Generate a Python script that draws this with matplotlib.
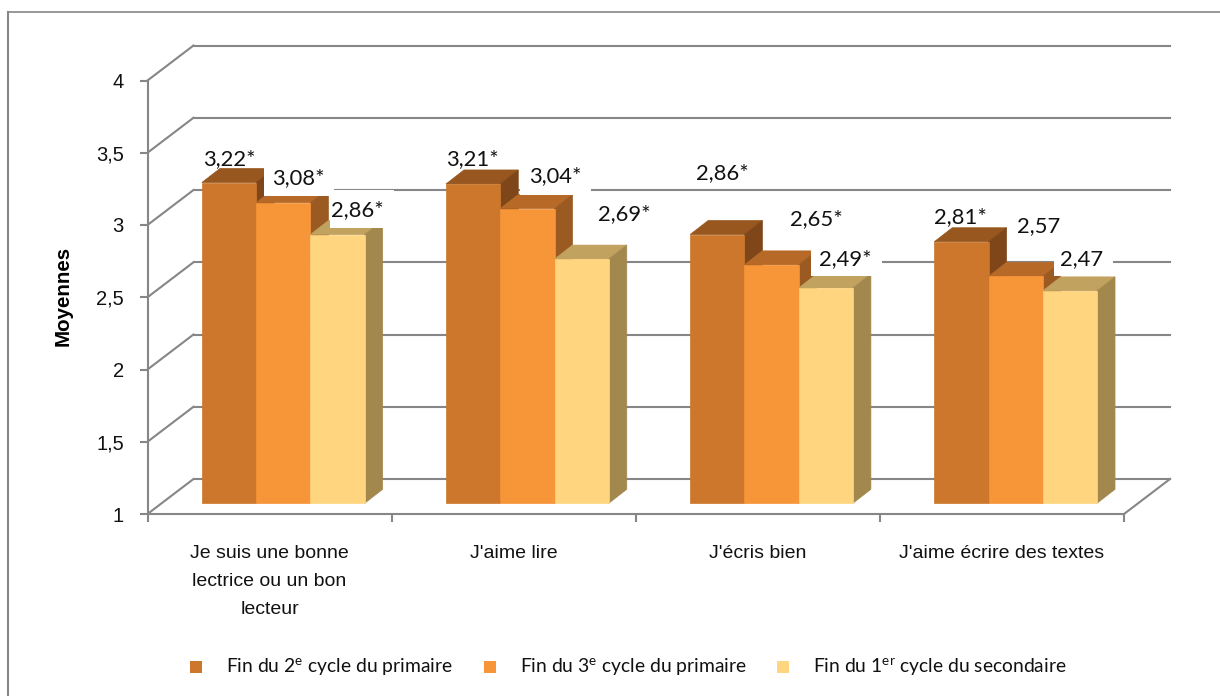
import matplotlib
matplotlib.use("Agg")
import matplotlib.pyplot as plt
from matplotlib.lines import Line2D
from matplotlib.patches import Polygon, Rectangle
from matplotlib.transforms import Affine2D

W, H = 1220, 696

categories = ["Je suis une bonne\nlectrice ou un bon\nlecteur", "J'aime lire", "J'écris bien",
              "J'aime écrire des textes"]
series_names = ["Fin du 2$^{\\mathrm{e}}$ cycle du primaire",
                "Fin du 3$^{\\mathrm{e}}$ cycle du primaire",
                "Fin du 1$^{\\mathrm{er}}$ cycle du secondaire"]
cycle2 = [3.22, 3.21, 2.86, 2.81]
cycle3 = [3.08, 3.04, 2.65, 2.57]
secondaire = [2.86, 2.69, 2.49, 2.47]
labels2 = ["3,22*", "3,21*", "2,86*", "2,81*"]
labels3 = ["3,08*", "3,04*", "2,65*", "2,57"]
labels_sec = ["2,86*", "2,69*", "2,49*", "2,47"]
y_ticks = [1, 1.5, 2, 2.5, 3, 3.5, 4]
y_tick_labels = ["1", "1,5", "2", "2,5", "3", "3,5", "4"]

front_colors = ["#CC772B", "#F79539", "#FFD580"]
top_colors = ["#97571F", "#B76A27", "#C1A25F"]
side_colors = ["#7F4719", "#9A5A22", "#A3884D"]
grid_color = "#868686"

# label shifts from the top centre of each bar, in pixels
nudges = [
    [(0, 23), (-1, 25), (5, 61), (-1, 25)],
    [(15, 24.5), (28, 32), (44.5, 46), (23, 50)],
    [(20, 24), (43, 45), (20, 29), (12, 32)],
]
# white backings behind some labels: left, top, right, bottom in pixels
label_backings = [(264, 165, 334, 196), (330, 190.4, 394, 228), (520, 165, 591, 195),
                  (811, 240, 882, 276), (1054, 245, 1113, 276)]

plt.rcParams["mathtext.fontset"] = "custom"
plt.rcParams["mathtext.rm"] = "Lato"

fig = plt.figure(figsize=(W / 100, H / 100), dpi=100, facecolor="white")
left, right, top, bottom = 147.5, 1124, 80.5, 514
ax = fig.add_axes([left / W, 1 - bottom / H, (right - left) / W, (bottom - top) / H])
ax.set_xlim(0, 4)
ax.set_ylim(1, 4)
ax.patch.set_visible(False)
ax.set_zorder(1)

line_w = 1.5
for s in ("top", "right"):
    ax.spines[s].set_visible(False)
for s in ("left", "bottom"):
    ax.spines[s].set_color(grid_color)
    ax.spines[s].set_linewidth(line_w)

ax.set_yticks(y_ticks, y_tick_labels, family="Liberation Sans", fontsize=14.5, color="#111111")
ax.set_xticks(range(5), [""] * 5)
ax.set_xticks([0.5, 1.5, 2.5, 3.5], categories, minor=True, family="Liberation Sans",
              fontsize=14, color="#111111", linespacing=1.86)
ax.tick_params(axis="both", which="major", color=grid_color, width=line_w, length=5.6)
ax.tick_params(axis="y", pad=11.5)
ax.tick_params(axis="x", which="minor", length=0, pad=22)

ax.set_ylabel("Moyennes", family="Liberation Sans", fontweight="bold", fontsize=14.8, va="center")
ax.yaxis.set_label_coords((63 - left) / (right - left), (bottom - 296) / (bottom - top))

# pixel lengths of the chart's receding depth
px_per_x = (right - left) / 4
px_per_y = (bottom - top) / 3
depth_x, depth_y = 46 / px_per_x, 35 / px_per_y

# back wall gridlines, side wall diagonals and floor
for v in y_ticks:
    ax.plot([depth_x, 4 + depth_x], [v + depth_y] * 2, color=grid_color, lw=line_w, zorder=1, clip_on=False)
    ax.plot([0, depth_x], [v, v + depth_y], color=grid_color, lw=line_w, zorder=1, clip_on=False)
ax.plot([4, 4 + depth_x], [1, 1 + depth_y], color=grid_color, lw=line_w, zorder=1, clip_on=False)

# bars sit part way into the depth of the floor
shift = Affine2D().translate(13.7, 10.7)
bar_trans = ax.transData + shift
bar_w = 1 / 4.5
bar_dx, bar_dy = 18 / px_per_x, 14 / px_per_y

all_series = [cycle2, cycle3, secondaire]
all_labels = [labels2, labels3, labels_sec]
for j, values in enumerate(all_series):
    z = 3 + j * 0.1
    for i, v in enumerate(values):
        x0 = i + 0.5 + (j - 1.5) * bar_w
        x1 = x0 + bar_w
        ax.add_patch(Polygon([(x0, v), (x1, v), (x1 + bar_dx, v + bar_dy), (x0 + bar_dx, v + bar_dy)],
                             facecolor=top_colors[j], edgecolor=top_colors[j], lw=0.5,
                             transform=bar_trans, zorder=z, clip_on=False))
        ax.add_patch(Polygon([(x1, 1), (x1 + bar_dx, 1 + bar_dy), (x1 + bar_dx, v + bar_dy), (x1, v)],
                             facecolor=side_colors[j], edgecolor=side_colors[j], lw=0.5,
                             transform=bar_trans, zorder=z, clip_on=False))
        ax.bar(x0, v - 1, bottom=1, width=bar_w, align="edge", color=front_colors[j],
               edgecolor=front_colors[j], linewidth=0.5, transform=bar_trans, zorder=z + 0.01, clip_on=False)

# backings sit between the bars and the value labels
backing_ax = fig.add_axes([0, 0, 1, 1], zorder=2)
backing_ax.set_xlim(0, W)
backing_ax.set_ylim(H, 0)
backing_ax.axis("off")
for l, t, r, b in label_backings:
    backing_ax.add_patch(Rectangle((l, t), r - l, b - t, facecolor="white", edgecolor="none"))

overlay = fig.add_axes(ax.get_position(), sharex=ax, sharey=ax, zorder=3)
overlay.axis("off")
for j, values in enumerate(all_series):
    for i, v in enumerate(values):
        xc = i + 0.5 + (j - 1) * bar_w
        dx, dy = nudges[j][i]
        overlay.annotate(all_labels[j][i], xy=(xc, v), xycoords=bar_trans,
                         xytext=(dx, dy), textcoords="offset pixels", ha="center", va="center",
                         family="Lato", fontsize=15.8, color="#111111", annotation_clip=False)

# outer frame, open on the right and at the bottom
fig.add_artist(Line2D([7.5 / W, W / W], [1 - 11.5 / H] * 2, color=grid_color, lw=1.2))
fig.add_artist(Line2D([7.5 / W, 7.5 / W], [1 - 11.5 / H, 0], color=grid_color, lw=1.5))

handles = [Line2D([], [], linestyle="none", marker="s", markersize=9.2, markeredgewidth=0,
                  color=c) for c in front_colors]
fig.legend(handles, series_names, loc="center left", bbox_to_anchor=(182 / W, 1 - 667.5 / H), ncol=3,
           frameon=False, prop={"family": "Lato", "size": 13.9}, handlelength=1.5,
           handletextpad=0.8, columnspacing=1.15, borderpad=0, borderaxespad=0, labelcolor="#111111")

fig.savefig("out.png", dpi=100, facecolor="white")
